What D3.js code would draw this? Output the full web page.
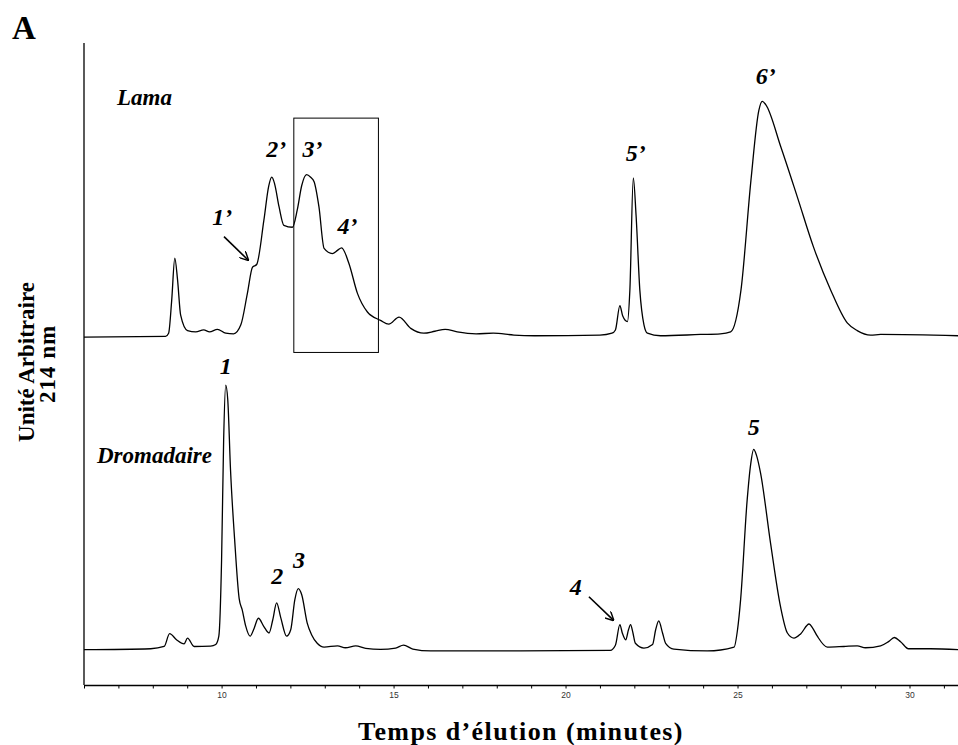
<!DOCTYPE html>
<html>
<head>
<meta charset="utf-8">
<script src="https://cdn.jsdelivr.net/npm/d3@7/dist/d3.min.js"></script>
<style>
  html, body { margin: 0; padding: 0; background: #fff; }
  svg { display: block; }
  .trace { fill: none; stroke: #000; stroke-width: 1.3; stroke-linejoin: round; }
  .serif { font-family: "Liberation Serif", "Times New Roman", serif; font-weight: bold; }
  .axis text { font-family: "Liberation Sans", Arial, sans-serif; font-size: 8.5px; fill: #333; }
</style>
</head>
<body>
<div id="chart"></div>
<script>
// Chromatogrammes (unité arbitraire, 214 nm)
const lamaTime = [6.0, 8.37, 8.46, 8.55, 8.64, 8.72, 8.81, 9.01, 9.25, 9.48, 9.65, 9.88, 10.12, 10.35, 10.56,
  10.75, 10.9, 11.02, 11.23, 11.37, 11.46, 11.54, 11.67, 11.81, 12.06, 12.2, 12.33, 12.47, 12.59, 12.69,
  12.83, 12.98, 13.22, 13.37, 13.49, 13.7, 13.95, 14.24, 14.62, 14.86, 15.16, 15.5, 15.88, 16.2, 16.5,
  16.85, 17.4, 17.9, 18.5, 19.1, 21.0, 21.35, 21.45, 21.58, 21.66, 21.8, 21.87, 21.97, 22.05, 22.16,
  22.28, 22.38, 22.76, 23.92, 24.5, 24.8, 25.1, 25.39, 25.62, 25.72, 25.82, 26.26, 26.74, 27.21, 27.71,
  28.19, 28.48, 28.87, 29.16, 31.43];
const lamaSignal = [0, 0.1, 0.6, 5.75, 12.3, 8.9, 3.4, 1.0, 0.8, 1.1, 0.8, 1.2, 0.6, 0.5, 1.9,
  6.8, 10.9, 11.3, 18.2, 23.5, 24.9, 23.9, 20.3, 17.4, 17.1, 19.8, 23.6, 25.3, 24.9, 24.2,
  20.3, 13.8, 13.0, 13.5, 13.9, 11.5, 6.8, 3.9, 2.6, 2.0, 3.1, 1.35, 0.6, 0.9, 1.2,
  0.8, 0.5, 0.6, 0.3, 0.2, 0.3, 0.6, 1.1, 4.9, 3.3, 2.4, 7.3, 24.8, 19.0, 7.3,
  1.9, 0.6, 0.2, 0.4, 0.5, 0.8, 7.3, 24.4, 35.3, 36.7, 36.2, 29.6, 21.8, 14.0, 7.3,
  2.2, 1.0, 0.3, 0.4, 0.2];

const dromTime = [6.0, 7.94, 8.33, 8.49, 8.69, 8.91, 9.01, 9.2, 9.68, 9.83, 9.92, 10.0, 10.06, 10.12, 10.18,
  10.26, 10.38, 10.51, 10.6, 10.7, 10.83, 10.93, 11.07, 11.23, 11.38, 11.49, 11.6, 11.72, 11.89, 12.01,
  12.13, 12.23, 12.33, 12.49, 12.62, 12.78, 12.98, 13.37, 13.6, 13.9, 14.19, 14.62, 15.06, 15.29, 15.56,
  16.08, 18.7, 21.3, 21.45, 21.58, 21.65, 21.75, 21.83, 21.89, 21.96, 22.03, 22.28, 22.53, 22.62, 22.71,
  22.82, 22.91, 23.15, 24.12, 24.9, 25.0, 25.09, 25.28, 25.38, 25.47, 25.55, 25.67, 25.96, 26.25, 26.45,
  26.64, 26.84, 27.08, 27.18, 27.32, 27.61, 28.09, 28.48, 28.72, 29.16, 29.39, 29.56, 29.74, 29.97, 30.61,
  31.43];
const dromSignal = [0.2, 0.35, 0.7, 2.7, 1.75, 1.1, 2.0, 0.7, 0.75, 1.0, 2.3, 14.2, 32.9, 41.4, 39.1,
  28.2, 17.3, 8.2, 6.4, 3.9, 2.3, 3.3, 5.1, 3.8, 2.8, 4.9, 7.5, 5.2, 2.3, 3.3,
  8.0, 9.7, 8.75, 4.35, 2.5, 1.2, 0.6, 0.8, 0.5, 0.8, 0.4, 0.25, 0.45, 0.9, 0.3,
  0.0, 0.0, 0.1, 0.9, 4.1, 2.8, 1.75, 3.3, 4.1, 2.8, 1.2, 0.45, 1.0, 3.3, 4.7,
  2.8, 1.2, 0.3, 0.0, 0.6, 3.3, 8.0, 23.5, 29.0, 31.4, 30.5, 27.7, 16.8, 6.9, 2.8,
  2.0, 2.7, 4.2, 3.6, 2.3, 0.6, 0.7, 0.8, 0.5, 0.8, 1.45, 2.1, 1.45, 0.35, 0.35,
  0.2];

// baselines of each trace on the arbitrary-unit axis
const lamaOffset = 54.2;
const dromOffset = 5.3;

// peak labels: [text, time (min), height (u.a.)]
const lamaLabels = [["1’", 10.02, 72.9], ["2’", 11.59, 83.6], ["3’", 12.64, 83.6], ["4’", 13.66, 71.6], ["5’", 22.04, 83.0], ["6’", 25.82, 95.0]];
const dromLabels = [["1", 10.12, 49.8], ["2", 11.62, 17.1], ["3", 12.25, 19.6], ["4", 20.3, 15.3], ["5", 25.47, 40.2]];

// arrows: [t0, v0, t1, v1]
const arrows = [[10.07, 69.85, 10.77, 66.2], [20.68, 13.75, 21.39, 10.1]];
// zone encadrée: [tStart, tEnd, vBottom, vTop]
const boxZone = [12.1, 14.56, 51.8, 88.3];

const majorTicks = [10, 15, 20, 25, 30];
const minorTicks = d3.range(6, 32, 1);

const width = 958, height = 745;
const margin = { top: 43, right: 0, bottom: 60, left: 84 };

const svg = d3.select('#chart').append('svg')
  .attr('width', width)
  .attr('height', height);

const x = d3.scaleLinear().domain([6, 31.41]).range([margin.left, width - margin.right]);
const y = d3.scaleLinear().domain([0, 100]).range([height - margin.bottom, margin.top]);

// arrow marker
svg.append('defs').append('marker')
  .attr('id', 'arrowhead')
  .attr('viewBox', '0 0 10 10')
  .attr('refX', 9).attr('refY', 5)
  .attr('markerWidth', 9).attr('markerHeight', 9)
  .attr('markerUnits', 'userSpaceOnUse')
  .attr('orient', 'auto')
  .append('path')
  .attr('d', 'M0,0 L10,5 L0,10')
  .attr('fill', 'none')
  .attr('stroke', '#000')
  .attr('stroke-width', 1.6);

// axes
const xAxis = d3.axisBottom(x)
  .tickValues(minorTicks)
  .tickSize(3.5)
  .tickSizeOuter(0)
  .tickPadding(3)
  .tickFormat(d => majorTicks.includes(d) ? d : '');

const gx = svg.append('g')
  .attr('class', 'axis')
  .attr('transform', `translate(0, ${y(0)})`)
  .call(xAxis);
gx.select('.domain').attr('stroke', '#000').attr('stroke-width', 1.3);
gx.selectAll('.tick line').attr('stroke', '#000');

svg.append('line')
  .attr('x1', x(6)).attr('x2', x(6))
  .attr('y1', y(100)).attr('y2', y(0))
  .attr('stroke', '#000')
  .attr('stroke-width', 1.3);

// traces
const line = offset => d3.line()
  .curve(d3.curveMonotoneX)
  .x(d => x(d[0]))
  .y(d => y(d[1] + offset));

svg.append('path')
  .datum(d3.zip(lamaTime, lamaSignal))
  .attr('class', 'trace')
  .attr('d', line(lamaOffset));

svg.append('path')
  .datum(d3.zip(dromTime, dromSignal))
  .attr('class', 'trace')
  .attr('d', line(dromOffset));

// box
svg.append('rect')
  .attr('x', x(boxZone[0]))
  .attr('y', y(boxZone[3]))
  .attr('width', x(boxZone[1]) - x(boxZone[0]))
  .attr('height', y(boxZone[2]) - y(boxZone[3]))
  .attr('fill', 'none')
  .attr('stroke', '#000')
  .attr('stroke-width', 1);

// arrows
svg.selectAll('.arrow')
  .data(arrows)
  .enter()
  .append('line')
  .attr('class', 'arrow')
  .attr('x1', d => x(d[0])).attr('y1', d => y(d[1]))
  .attr('x2', d => x(d[2])).attr('y2', d => y(d[3]))
  .attr('stroke', '#000')
  .attr('stroke-width', 1.6)
  .attr('marker-end', 'url(#arrowhead)');

// peak labels
svg.selectAll('.peak')
  .data(lamaLabels.concat(dromLabels))
  .enter()
  .append('text')
  .attr('class', 'serif peak')
  .attr('x', d => x(d[1]))
  .attr('y', d => y(d[2]))
  .attr('dy', '0.35em')
  .attr('text-anchor', 'middle')
  .style('font-style', 'italic')
  .style('font-size', '24px')
  .text(d => d[0]);

// sample names
svg.append('text')
  .attr('class', 'serif')
  .attr('x', 117).attr('y', 105)
  .style('font-style', 'italic')
  .style('font-size', '23px')
  .text('Lama');

svg.append('text')
  .attr('class', 'serif')
  .attr('x', 97).attr('y', 463)
  .style('font-style', 'italic')
  .style('font-size', '23px')
  .text('Dromadaire');

// panel letter
svg.append('text')
  .attr('class', 'serif')
  .attr('x', 12).attr('y', 39)
  .style('font-size', '33px')
  .text('A');

// axis titles
svg.append('text')
  .attr('class', 'serif')
  .attr('transform', `translate(34, 362) rotate(-90)`)
  .attr('text-anchor', 'middle')
  .style('font-size', '23px')
  .text('Unité Arbitraire');

svg.append('text')
  .attr('class', 'serif')
  .attr('transform', `translate(55, 364) rotate(-90)`)
  .attr('text-anchor', 'middle')
  .style('font-size', '23px')
  .style('letter-spacing', '1px')
  .text('214 nm');

svg.append('text')
  .attr('class', 'serif')
  .attr('x', 521).attr('y', 740)
  .attr('text-anchor', 'middle')
  .style('font-size', '26px')
  .style('letter-spacing', '1.4px')
  .text('Temps d’élution (minutes)');
</script>
</body>
</html>
